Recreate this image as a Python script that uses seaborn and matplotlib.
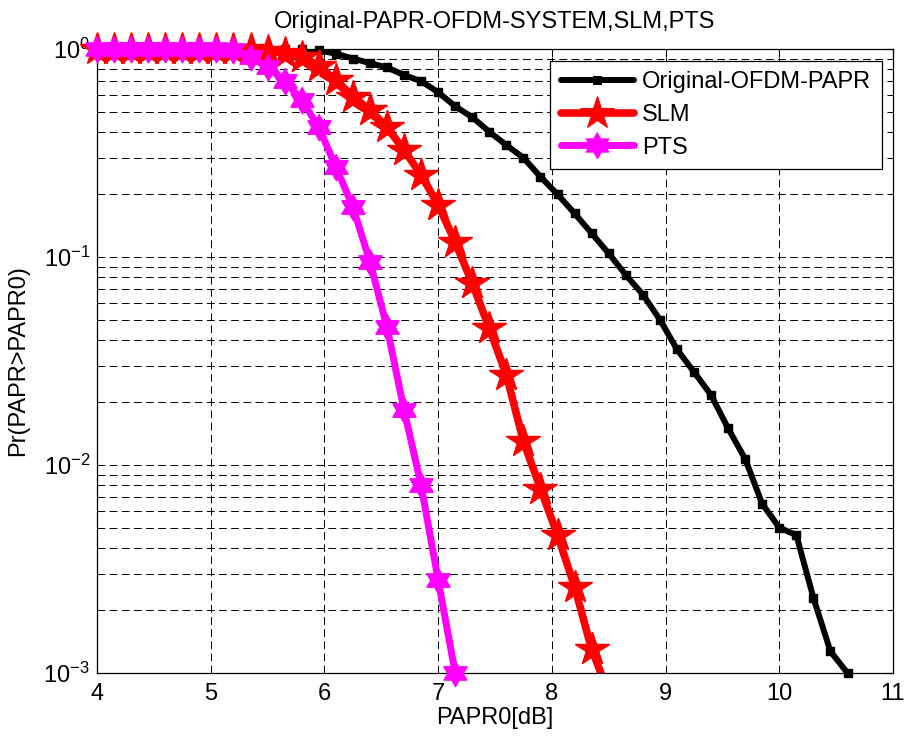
import numpy as np
import matplotlib
matplotlib.use('Agg')
import matplotlib.pyplot as plt
import seaborn as sns
from matplotlib.ticker import LogLocator, NullFormatter, FixedLocator

# PAPR0 grid, 0.15 dB steps from 4 dB
papr0 = [4.0, 4.15, 4.3, 4.45, 4.6, 4.75, 4.9, 5.05, 5.2, 5.35, 5.5, 5.65, 5.8, 5.95,
         6.1, 6.25, 6.4, 6.55, 6.7, 6.85, 7.0, 7.15, 7.3, 7.45, 7.6, 7.75, 7.9, 8.05,
         8.2, 8.35, 8.5, 8.65, 8.8, 8.95, 9.1, 9.25, 9.4, 9.55, 9.7, 9.85, 10.0, 10.15,
         10.3, 10.45, 10.6]

# CCDF values
ccdf_orig = [1.0, 1.0, 1.0, 1.0, 1.0, 1.0, 1.0, 1.0, 1.0, 1.0, 1.0, 1.0, 0.998, 0.985,
             0.95, 0.90, 0.855, 0.815, 0.75, 0.70, 0.62, 0.53, 0.47, 0.40, 0.345, 0.30,
             0.243, 0.20, 0.162, 0.13, 0.104, 0.082, 0.066, 0.050, 0.036, 0.028, 0.0217,
             0.015, 0.0107, 0.0065, 0.0050, 0.0046, 0.0023, 0.00127, 0.0010]
ccdf_slm = [1.0, 1.0, 1.0, 1.0, 1.0, 1.0, 1.0, 1.0, 1.0, 1.0, 0.98, 0.955, 0.92, 0.83,
            0.71, 0.59, 0.51, 0.42, 0.327, 0.248, 0.178, 0.118, 0.0747, 0.0454, 0.0271,
            0.0130, 0.0077, 0.0046, 0.0026, 0.0013, 0.0008]
ccdf_pts = [1.0, 1.0, 1.0, 1.0, 1.0, 1.0, 1.0, 1.0, 0.99, 0.92, 0.82, 0.70, 0.57, 0.42,
            0.272, 0.174, 0.095, 0.046, 0.0184, 0.0080, 0.0028, 0.0010]

sns.set_style('white')
plt.rcParams['font.family'] = ['Liberation Sans', 'DejaVu Sans']
plt.rcParams['mathtext.default'] = 'regular'
plt.rcParams['text.color'] = 'black'
plt.rcParams['axes.labelcolor'] = 'black'
plt.rcParams['xtick.color'] = 'black'
plt.rcParams['ytick.color'] = 'black'

# hexagram marker like MATLAB 'h'
ang = np.deg2rad(90 + 30 * np.arange(12))
rad = np.where(np.arange(12) % 2 == 0, 1.0, 1 / np.sqrt(3))
hexagram = list(zip(rad * np.cos(ang), rad * np.sin(ang)))

fig = plt.figure(figsize=(9.05, 7.38), dpi=100)
ax = fig.add_axes([97 / 905, 65 / 738, 796 / 905, 624 / 738])

series = [
    ('Original-OFDM-PAPR', ccdf_orig, 'black', 's', 6, 4.3),
    ('SLM', ccdf_slm, '#ff0000', '*', 25, 5.5),
    ('PTS', ccdf_pts, '#ff00ff', hexagram, 19, 5.0),
]

for name, vals, col, mk, ms, lw in series:
    xs = np.array(papr0[:len(vals)])
    ys = np.array(vals)
    sns.lineplot(x=xs, y=ys, color=col, lw=lw, marker=mk, ms=ms, mec=col, mfc=col,
                 label=name, ax=ax)
    # MATLAB does not clip markers at the box
    inside = ys >= 1e-3
    ax.plot(xs[inside], ys[inside], ls='none', marker=mk, ms=ms, color=col, mec=col,
            clip_on=False, zorder=3)

ax.set_yscale('log')
ax.set_xlim(4, 11)
ax.set_ylim(1e-3, 1)
ax.xaxis.set_major_locator(FixedLocator([4, 5, 6, 7, 8, 9, 10, 11]))
ax.yaxis.set_major_locator(LogLocator(base=10, numticks=10))
ax.yaxis.set_minor_locator(LogLocator(base=10, subs=np.arange(2, 10), numticks=10))
ax.yaxis.set_minor_formatter(NullFormatter())

ax.grid(True, which='major', axis='both', color='black', lw=0.7, ls=(0, (8, 4.5)))
ax.grid(True, which='minor', axis='y', color='black', lw=0.7, ls=(0, (8, 4.5)))
ax.set_axisbelow(True)

ax.tick_params(which='both', direction='in', top=True, right=True, colors='black',
               labelsize=17)
ax.tick_params(axis='x', which='major', length=6, pad=7)
ax.tick_params(axis='y', which='major', length=6, pad=5)
ax.tick_params(axis='y', which='minor', length=3.5)
for sp in ax.spines.values():
    sp.set_color('black')
    sp.set_linewidth(0.9)

ax.set_title('Original-PAPR-OFDM-SYSTEM,SLM,PTS', fontsize=17, pad=15, color='black')
ax.set_xlabel('PAPR0[dB]', fontsize=17)
ax.set_ylabel('Pr(PAPR>PAPR0)', fontsize=17)
ax.xaxis.set_label_coords(0.5, -0.055)
ax.yaxis.set_label_coords(-0.085, 0.5)

leg = ax.legend(loc='upper right', bbox_to_anchor=(0.986, 0.981), borderaxespad=0,
                fontsize=17, frameon=True, fancybox=False, framealpha=1,
                edgecolor='black', handlelength=3.1, handletextpad=0.35,
                labelspacing=0.45, borderpad=0.45, numpoints=1)
leg.get_frame().set_linewidth(0.9)

fig.savefig('out.png', dpi=100)
